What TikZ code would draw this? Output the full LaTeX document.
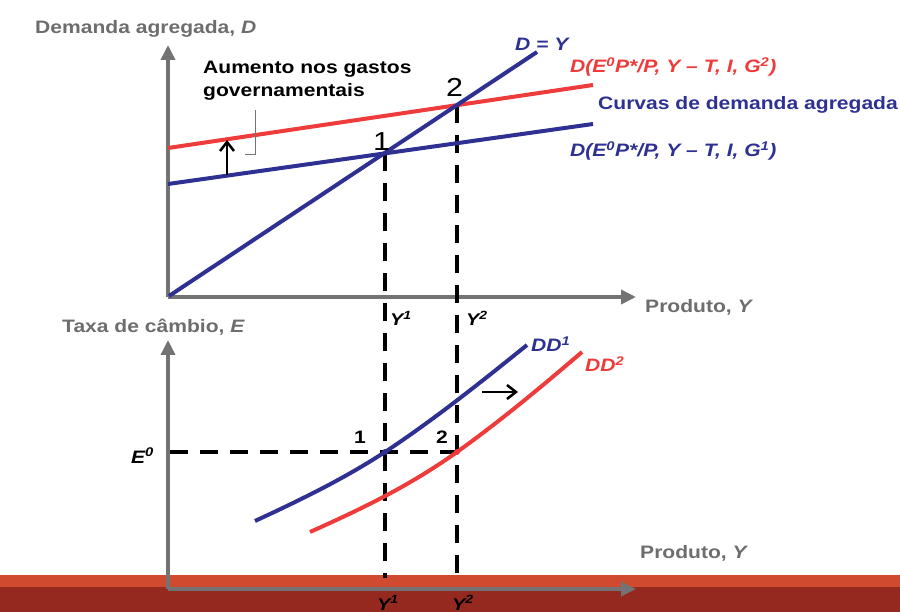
\documentclass[tikz,border=0pt]{standalone}
\usepackage{fontspec}
\setmainfont{Liberation Sans}[FakeStretch=1.17]
\usetikzlibrary{arrows.meta}
\definecolor{dblue}{HTML}{2E3192}
\definecolor{dred}{HTML}{EE3B3B}
\definecolor{axgray}{HTML}{737373}
\definecolor{txgray}{HTML}{6D6D6D}
\definecolor{bandlight}{HTML}{CF4A2E}
\definecolor{banddark}{HTML}{95281F}
\begin{document}
\begin{tikzpicture}[x=1pt,y=-1pt,
  axis/.style={draw=axgray,line width=3.5pt,-{Triangle[length=15pt,width=14pt]}},
  curve/.style={line width=4pt},
  guide/.style={line width=3.5pt,dash pattern=on 18pt off 12pt},
  shiftarrow/.style={line width=2.5pt,-{Straight Barb[length=9pt,width=14pt]}},
  lbl/.style={inner sep=0pt,anchor=base west,font=\fontsize{18}{22}\selectfont\bfseries},
  ilbl/.style={lbl,font=\fontsize{18}{22}\selectfont\bfseries\itshape},
  small/.style={inner sep=0pt,anchor=base west,font=\fontsize{17}{19}\selectfont\bfseries\itshape},
  bignum/.style={inner sep=0pt,anchor=base west,font=\fontsize{26}{30}\selectfont},
  dot/.style={circle,inner sep=0pt,minimum size=6pt}]
\useasboundingbox (0,0) rectangle (900,612);
% bottom band
\fill[bandlight] (0,575) rectangle (900,587);
\fill[banddark] (0,587) rectangle (900,612);

% ---------- top panel ----------
\coordinate (O1) at (168,297);
\coordinate (Ytop) at (168,45);
\coordinate (Xtop) at (636,297);
\draw[axis] (O1) -- (Ytop);
\draw[axis] (O1) -- (Xtop);

\coordinate (DYs) at (169,296);
\coordinate (DYe) at (537,52);
\coordinate (R1) at (168,148);
\coordinate (R2) at (593,85);
\coordinate (B1) at (168,184);
\coordinate (B2) at (593,124);
\coordinate (P1) at (385,153);
\coordinate (P2) at (457,105);

% dashed guides
\coordinate (P1b) at (385,578);
\coordinate (P2b) at (457,578);
\draw[guide] (P1) -- (P1b);
\draw[guide] (P2) -- (P2b);

\draw[curve,dblue] (B1) -- (B2);
\draw[curve,dred] (R1) -- (R2);
\draw[curve,dblue] (DYs) -- (DYe);

% shift arrow and bracket
\coordinate (Ua) at (227,175);
\coordinate (Ub) at (227,140);
\draw[shiftarrow] (Ua) -- (Ub);
\coordinate (Bra) at (255,110);
\coordinate (Brb) at (255,155);
\coordinate (Brc) at (245,155);
\draw[axgray,line width=1pt] (Bra) -- (Brb) -- (Brc);

% top labels
\node[lbl,txgray] (tY) at (35,34) {Demanda agregada, \textit{D}};
\node[lbl] (tA1) at (203,74) {Aumento nos gastos};
\node[lbl] (tA2) at (203,97) {governamentais};
\node[ilbl,dblue] (tDY) at (515,51) {D = Y};
\node[ilbl,dred] (tG2) at (570,73) {D(E\textsuperscript{0}P*/P, Y – T, I, G\textsuperscript{2})};
\node[lbl,dblue] (tCv) at (598,110) {Curvas de demanda agregada};
\node[ilbl,dblue] (tG1) at (570,157) {D(E\textsuperscript{0}P*/P, Y – T, I, G\textsuperscript{1})};
\node[lbl,txgray] (tX) at (645,313) {Produto, \textit{Y}};
\node[bignum] (n1) at (373,151) {1};
\node[bignum] (n2) at (446,97) {2};
\node[small] (tY1) at (390,326) {Y\textsuperscript{1}};
\node[small] (tY2) at (466,326) {Y\textsuperscript{2}};

% ---------- bottom panel ----------
\coordinate (O2) at (168,589);
\coordinate (Ybot) at (168,340);
\coordinate (Xbot) at (636,589);
\coordinate (E0l) at (170,452);
\coordinate (Q1) at (385,452);
\coordinate (Q2) at (457,452);
\draw[guide] (E0l) -- (Q2);

\coordinate (DDa) at (255,521);
\coordinate (DDb) at (527,345);
\coordinate (DDc) at (310,532);
\coordinate (DDd) at (582,352);
\draw[curve,dblue] (DDa) .. controls (298,501) and (342,480) .. (Q1)
                         .. controls (432,421) and (480,383) .. (DDb);
\draw[curve,dred] (DDc) .. controls (359,510) and (408,487) .. (Q2)
                        .. controls (499,422) and (540,388) .. (DDd);
\node[dot,fill=dblue] (d1) at (Q1) {};
\node[dot,fill=dred] (d2) at (Q2) {};

\coordinate (Ra) at (482,392);
\coordinate (Rb) at (518,392);
\draw[shiftarrow] (Ra) -- (Rb);

\draw[axis] (O2) -- (Ybot);
\draw[axis] (O2) -- (Xbot);

\node[lbl,txgray] (bY) at (62,333) {Taxa de câmbio, \textit{E}};
\node[lbl,txgray] (bX) at (640,558) {Produto, \textit{Y}};
\node[ilbl] (bE0) at (131,463) {E\textsuperscript{0}};
\node[lbl] (b1) at (354,443) {1};
\node[lbl] (b2) at (436,443) {2};
\node[ilbl,dblue] (bDD1) at (531,352) {DD\textsuperscript{1}};
\node[ilbl,dred] (bDD2) at (585,372) {DD\textsuperscript{2}};
\node[small] (bY1) at (377,610) {Y\textsuperscript{1}};
\node[small] (bY2) at (452,610) {Y\textsuperscript{2}};
\end{tikzpicture}
\end{document}
